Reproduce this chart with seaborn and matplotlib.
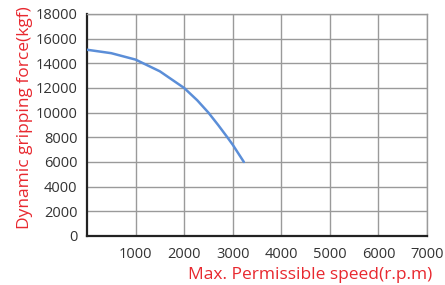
import matplotlib

matplotlib.use("Agg")
import matplotlib.pyplot as plt
import pandas as pd
import seaborn as sns

# values
speed = [0, 500, 1000, 1500, 2000, 2270, 2500, 2700, 2890, 3000, 3230]
force = [15100, 14820, 14300, 13350, 12000, 11000, 10000, 9000, 8000, 7400, 6000]
x_ticks = [1000, 2000, 3000, 4000, 5000, 6000, 7000]
y_ticks = [0, 2000, 4000, 6000, 8000, 10000, 12000, 14000, 16000, 18000]

RED = "#e8282f"
sns.set_theme(style="white")
plt.rcParams["font.family"] = ["Open Sans", "DejaVu Sans"]

df = pd.DataFrame({"speed": speed, "force": force})

fig = plt.figure(figsize=(4.45, 2.85), dpi=100)
ax = fig.add_axes([0.1955, 0.172, 0.764, 0.779])
sns.lineplot(data=df, x="speed", y="force", color="#5b8ed8", lw=1.8, ax=ax, zorder=3)

ax.set_xlim(0, 7000)
ax.set_ylim(0, 18000)
ax.set_xticks(x_ticks)
ax.set_yticks(y_ticks)
ax.grid(True, color="#9a9a9a", lw=1)
ax.tick_params(axis="both", length=0, labelsize=10.5, labelcolor="#333")
ax.tick_params(axis="x", pad=8)
ax.tick_params(axis="y", pad=7)
for side in ["left", "bottom"]:
    ax.spines[side].set_color("#222")
    ax.spines[side].set_linewidth(1.6)
for side in ["top", "right"]:
    ax.spines[side].set_color("#9a9a9a")
    ax.spines[side].set_linewidth(1)

ax.set_xlabel("Max. Permissible speed(r.p.m)", color=RED, fontsize=12.5)
ax.set_ylabel("Dynamic gripping force(kgf)", color=RED, fontsize=12.5)
ax.xaxis.set_label_coords(0.656, -0.14)
ax.yaxis.set_label_coords(-0.16, 0.535)

fig.savefig("out.png", dpi=100)
